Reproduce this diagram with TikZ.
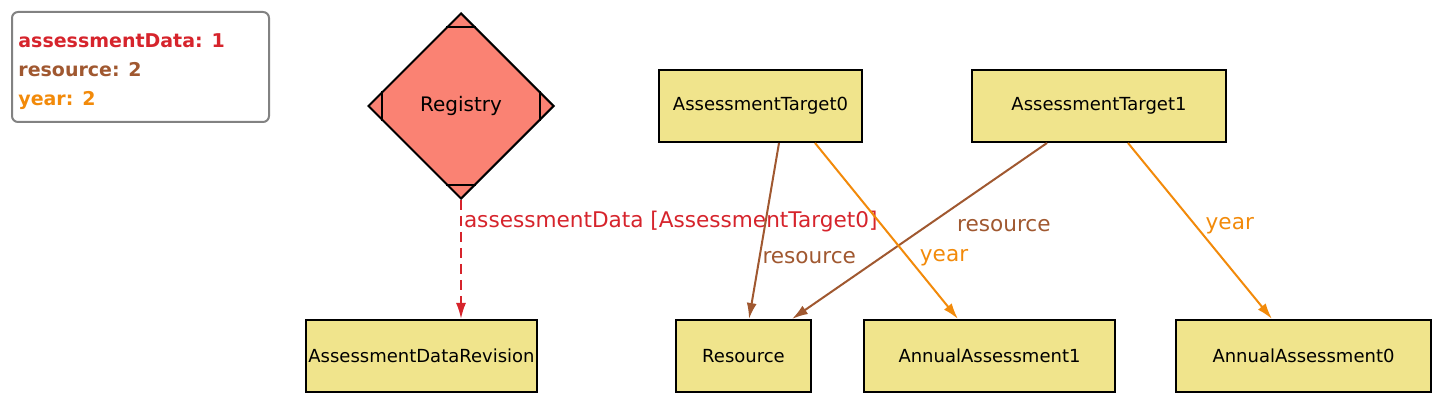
\documentclass[tikz,border=0pt]{standalone}
\usepackage{fontspec}
\setmainfont{DejaVu Sans}
\usetikzlibrary{calc,arrows,arrows.meta,shapes.geometric}
\definecolor{objfill}{RGB}{240,228,140}
\definecolor{regfill}{RGB}{250,130,115}
\definecolor{adred}{RGB}{214,36,44}
\definecolor{resbrown}{RGB}{160,88,48}
\definecolor{yearorange}{RGB}{242,138,10}
\definecolor{legendgray}{RGB}{130,130,130}

\begin{document}
\begin{tikzpicture}[x=0.5pt,y=-0.5pt,
    obj/.style={draw,line width=1pt,fill=objfill,minimum height=36pt,inner sep=0pt,font=\fontsize{9}{11}\selectfont},
    lbl/.style={anchor=west,inner sep=1pt,font=\fontsize{10.8}{13}\selectfont},
    link/.style={-{Latex[length=8pt,width=5pt]},line width=1pt}]
    \useasboundingbox (0,0) rectangle (1456,416);
    % legend
    \node[draw=legendgray,rounded corners=3pt,line width=1pt,minimum width=128.5pt,minimum height=55pt] (legend) at (140.5,67) {};
    \node[anchor=west,align=left,inner sep=0pt,font=\bfseries\fontsize{9.5}{14.5}\selectfont] (keys) at (18,72)
    {\textcolor{adred}{assessmentData: 1}\\\textcolor{resbrown}{resource: 2}\\\textcolor{yearorange}{year: 2}};
    % objects
    \node[diamond,aspect=1,draw,line width=1pt,fill=regfill,minimum width=93pt,minimum height=93pt,inner sep=0pt,font=\fontsize{10}{12}\selectfont] (reg) at (461,106) {Registry};
    \draw[line width=1pt]
    ($(reg.north)+(-15,15)$) -- ($(reg.north)+(15,15)$)
    ($(reg.south)+(-15,-15)$) -- ($(reg.south)+(15,-15)$)
    ($(reg.west)+(15,-15)$) -- ($(reg.west)+(15,15)$)
    ($(reg.east)+(-15,-15)$) -- ($(reg.east)+(-15,15)$);
    \node[obj,minimum width=101.5pt] (at0) at (760.5,106) {AssessmentTarget0};
    \node[obj,minimum width=127pt] (at1) at (1099,106) {AssessmentTarget1};
    \node[obj,minimum width=115.5pt] (adr) at (421.5,356) {AssessmentDataRevision};
    \node[obj,minimum width=67.5pt] (res) at (743.5,356) {Resource};
    \node[obj,minimum width=125.5pt] (aa1) at (989.5,356) {AnnualAssessment1};
    \node[obj,minimum width=127.5pt] (aa0) at (1303.5,356) {AnnualAssessment0};
    % links
    \draw[link,adred,dash pattern=on 5pt off 3pt]
    (reg.south) -- node[lbl,pos=0.18,text=adred]{assessmentData [AssessmentTarget0]} (reg.south |- adr.north);
    \draw[link,resbrown]
    ($(at0.south)+(18.5,0)$) -- node[lbl,pos=0.65,text=resbrown]{resource} ($(res.north)+(5.5,0)$);
    \draw[link,resbrown]
    ($(at1.south)+(-52,0)$) -- node[lbl,pos=0.47,xshift=13.5pt,text=resbrown]{resource} ($(res.north)+(48.5,0)$);
    \draw[link,yearorange]
    ($(at0.south)+(54.5,0)$) -- node[lbl,pos=0.65,xshift=4.5pt,text=yearorange]{year} ($(aa1.north)+(-31.5,0)$);
    \draw[link,yearorange]
    ($(at1.south)+(29,0)$) -- node[lbl,pos=0.47,xshift=3.5pt,text=yearorange]{year} ($(aa0.north)+(-31.5,0)$);
\end{tikzpicture}
\end{document}
